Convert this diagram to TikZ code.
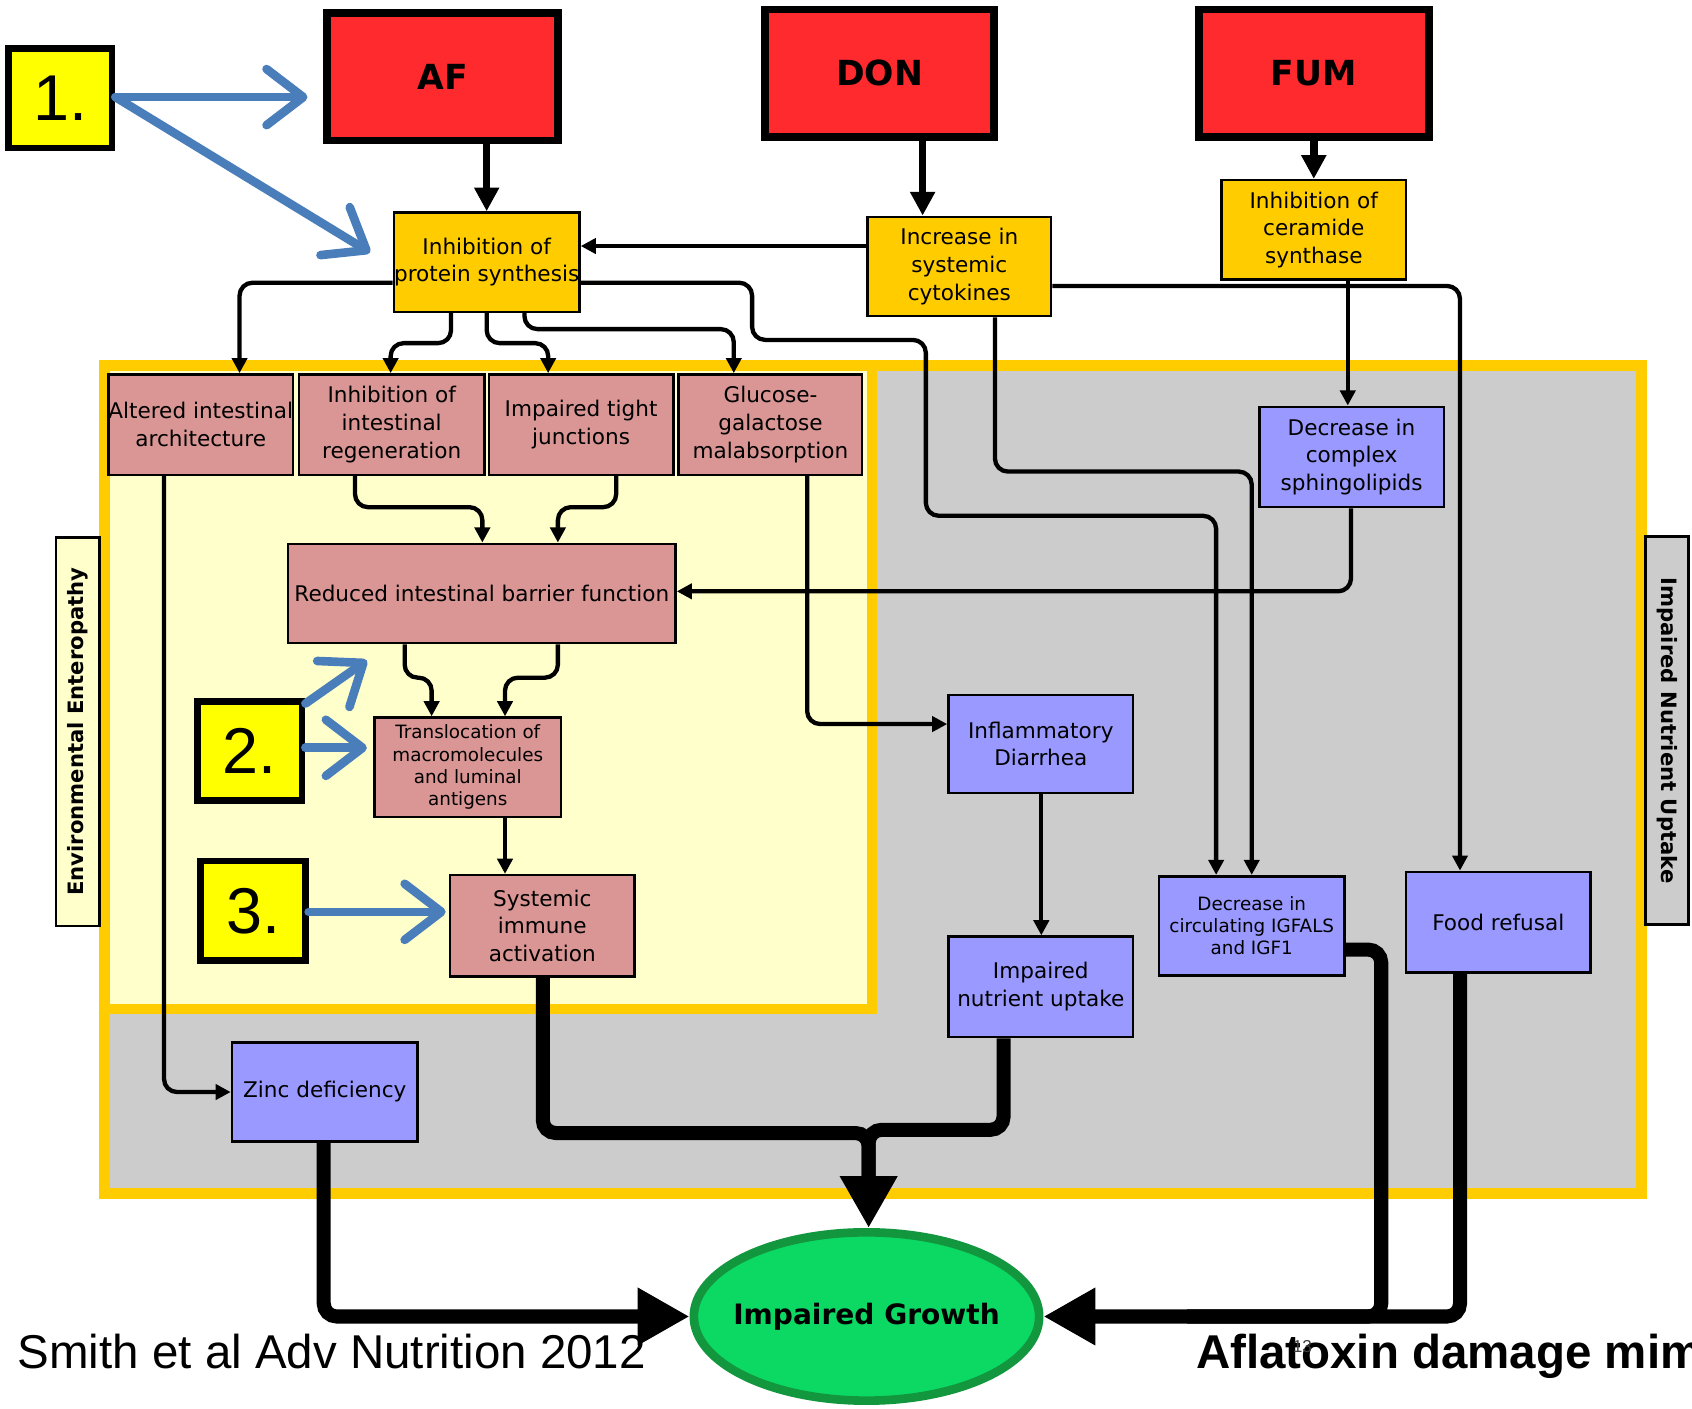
\documentclass[tikz,border=0pt]{standalone}
\usepackage{fontspec}
\setmainfont{DejaVu Sans}
\newfontfamily\arialf{Liberation Sans}
\usetikzlibrary{arrows.meta,shapes.geometric,calc}
\definecolor{redfill}{RGB}{255,42,46}
\definecolor{orangefill}{RGB}{255,204,0}
\definecolor{pinkfill}{RGB}{217,150,148}
\definecolor{bluefill}{RGB}{153,153,255}
\definecolor{greenfill}{RGB}{12,216,100}
\definecolor{greenline}{RGB}{18,150,62}
\definecolor{grayfill}{RGB}{204,204,204}
\definecolor{lightyellow}{RGB}{255,255,204}
\definecolor{numyellow}{RGB}{255,255,0}
\definecolor{bluearrow}{RGB}{74,126,187}
\definecolor{frameorange}{RGB}{255,204,0}
\begin{document}
\begin{tikzpicture}[x=0.5pt,y=-0.5pt,
  box/.style={draw=black, line width=1.2pt, inner sep=0pt, align=center,
    font=\fontsize{10}{12.8}\selectfont, text=black},
  orangebox/.style={box, fill=orangefill},
  pinkbox/.style={box, fill=pinkfill},
  bluebox/.style={box, fill=bluefill},
  smalltext/.style={font=\fontsize{8.5}{10.3}\selectfont},
  redbox/.style={draw=black, line width=3.5pt, fill=redfill, inner sep=0pt,
    font=\bfseries\fontsize{16}{18}\selectfont},
  numbox/.style={draw=black, line width=3pt, fill=numyellow, inner sep=0pt,
    font=\arialf\fontsize{30}{32}\selectfont},
  sidelabel/.style={draw=black, line width=1.2pt, inner sep=0pt,
    font=\bfseries\fontsize{9.8}{11}\selectfont},
  conn/.style={line width=2pt, rounded corners=6pt, -{Triangle[length=7pt,width=7pt]}},
  medarrow/.style={line width=3.5pt, -{Triangle[length=11pt,width=11pt]}},
  heavyline/.style={line width=6.5pt, rounded corners=6pt, -{Triangle[length=24pt,width=25pt]}},
  bluearr/.style={draw=bluearrow, line width=4pt, line cap=round,
    -{Straight Barb[length=17pt,width=26pt,round]}}
]
\useasboundingbox (0,0) rectangle (1568,1305);

% regions
\draw[fill=grayfill, draw=frameorange, line width=5pt] (97,339) rectangle (1521,1106);
\draw[fill=lightyellow, draw=frameorange, line width=5pt] (97,339) rectangle (808,935);

% side labels
\node[sidelabel, fill=lightyellow, minimum width=20pt, minimum height=180pt] (ee) at (72,678) {};
\node[rotate=90, font=\bfseries\fontsize{9.8}{11}\selectfont] (eetext) at (ee.center) {Environmental Enteropathy};
\node[sidelabel, fill=grayfill, minimum width=20pt, minimum height=180pt] (inu) at (1545,677) {};
\node[rotate=-90, font=\bfseries\fontsize{9.8}{11}\selectfont] (inutext) at (inu.center) {Impaired Nutrient Uptake};

% top boxes
\node[redbox, minimum width=107pt, minimum height=59pt] (AF) at (410,71) {AF};
\node[redbox, minimum width=106pt, minimum height=59pt] (DON) at (815,68) {DON};
\node[redbox, minimum width=106.5pt, minimum height=59pt] (FUM) at (1217.5,68) {FUM};

\node[orangebox, minimum width=86pt, minimum height=46pt] (prot) at (451,243) {Inhibition of\\protein synthesis};
\node[orangebox, minimum width=85pt, minimum height=46pt] (cyto) at (889,247) {Increase in\\systemic\\cytokines};
\node[orangebox, minimum width=85.5pt, minimum height=46pt] (cera) at (1217.5,213) {Inhibition of\\ceramide\\synthase};

% pink row
\node[pinkbox, minimum width=85pt, minimum height=46.5pt] (alt) at (186,393.5) {Altered intestinal\\architecture};
\node[pinkbox, minimum width=86pt, minimum height=46.5pt] (regen) at (363,393.5) {Inhibition of\\intestinal\\regeneration};
\node[pinkbox, minimum width=85.5pt, minimum height=46.5pt] (tight) at (538.5,393.5) {Impaired tight\\junctions};
\node[pinkbox, minimum width=85pt, minimum height=46.5pt] (gluc) at (714,393.5) {Glucose-\\galactose\\malabsorption};

\node[pinkbox, minimum width=179.5pt, minimum height=46pt] (barrier) at (446.5,550) {Reduced intestinal barrier function};
\node[pinkbox, smalltext, minimum width=86.5pt, minimum height=46pt] (transl) at (433.5,711) {Translocation of\\macromolecules\\and luminal\\antigens};
\node[pinkbox, minimum width=85.5pt, minimum height=47pt] (sysimm) at (502.5,858) {Systemic\\immune\\activation};

% blue boxes
\node[bluebox, minimum width=85.5pt, minimum height=46.5pt] (sphingo) at (1252.5,423.5) {Decrease in\\complex\\sphingolipids};
\node[bluebox, minimum width=85.5pt, minimum height=45.5pt] (infl) at (964.5,689.5) {Inflammatory\\Diarrhea};
\node[bluebox, minimum width=85.5pt, minimum height=46.5pt] (nutr) at (964.5,914.5) {Impaired\\nutrient uptake};
\node[bluebox, smalltext, minimum width=86pt, minimum height=46pt] (igf) at (1160,858) {Decrease in\\circulating IGFALS\\and IGF1};
\node[bluebox, minimum width=85.5pt, minimum height=46.5pt] (food) at (1388.5,854.5) {Food refusal};
\node[bluebox, minimum width=86pt, minimum height=46pt] (zinc) at (301,1012) {Zinc deficiency};

% growth
\node[ellipse, draw=greenline, line width=4pt, fill=greenfill, inner sep=0pt,
  minimum width=160pt, minimum height=78pt] (growth) at (803,1220) {};
\node[font=\bfseries\fontsize{13}{15}\selectfont, inner sep=0pt] (growthtext) at (growth.center) {Impaired Growth};

% number boxes
\node[numbox, minimum width=48pt, minimum height=46pt] (one) at (56,91) {1.};
\node[numbox, minimum width=48.5pt, minimum height=46pt] (two) at (231.5,696) {2.};
\node[numbox, minimum width=48.5pt, minimum height=46pt] (three) at (234.5,844) {3.};

% medium arrows
\draw[medarrow] (AF.south -| prot.north) -- (prot.north);
\draw[medarrow] (DON.south -| 855,0) -- (cyto.north -| 855,0);
\draw[medarrow] (FUM.south) -- (cera.north);

% thin connectors
\draw[conn] (cyto.west |- 0,228) -- (prot.east |- 0,228);
\draw[conn] (prot.west |- 0,262) -- (222,262) -- (alt.north -| 222,0);
\draw[conn] (prot.south -| 418,0) -- (418,318) -- (362,318) -- (regen.north -| 362,0);
\draw[conn] (prot.south -| 451,0) -- (451,318) -- (508,318) -- (tight.north -| 508,0);
\draw[conn] (prot.south -| 486,0) -- (486,305) -- (680,305) -- (gluc.north -| 680,0);
\draw[conn] (prot.east |- 0,262) -- (697,262) -- (697,315) -- (858,315) -- (858,478) -- (1127,478) -- (igf.north -| 1127,0);
\draw[conn] (cyto.south -| 922,0) -- (922,437) -- (1160,437) -- (igf.north -| 1160,0);
\draw[conn] (cyto.east |- 0,265) -- (1353,265) -- (food.north -| 1353,0);
\draw[conn] (cera.south -| 1249,0) -- (sphingo.north -| 1249,0);
\draw[conn] (sphingo.south -| 1252,0) -- (1252,548) -- (barrier.east |- 0,548);
\draw[conn] (regen.south -| 329,0) -- (329,470) -- (447,470) -- (barrier.north -| 447,0);
\draw[conn] (tight.south -| 571,0) -- (571,470) -- (517,470) -- (barrier.north -| 517,0);
\draw[conn] (barrier.south -| 375,0) -- (375,628) -- (400,628) -- (transl.north -| 400,0);
\draw[conn] (barrier.south -| 517,0) -- (517,628) -- (468,628) -- (transl.north -| 468,0);
\draw[conn] (transl.south -| 468,0) -- (sysimm.north -| 468,0);
\draw[conn] (alt.south -| 152,0) -- (152,1012) -- (zinc.west |- 0,1012);
\draw[conn] (gluc.south -| 748,0) -- (748,671) -- (infl.west |- 0,671);
\draw[conn] (infl.south -| 965,0) -- (nutr.north -| 965,0);

% heavy connectors
\draw[heavyline] (sysimm.south -| 503,0) -- (503,1050) -- (805,1050) -- (growth.north -| 805,0);
\draw[heavyline,-] (nutr.south -| 930,0) -- (930,1047) -- (805,1047) -- (805,1090);
\draw[heavyline] (zinc.south -| 300,0) -- (300,1220) -- (growth.west);
\draw[heavyline] (igf.east |- 0,880) -- (1280,880) -- (1280,1220) -- (growth.east);
\draw[heavyline,-] (food.south -| 1353,0) -- (1353,1220) -- (1100,1220);

% blue pointer arrows
\coordinate (b1) at (285,90);
\coordinate (b2) at (343,234);
\coordinate (b3) at (340,612);
\coordinate (b4) at (340,693);
\coordinate (b5) at (413,845);
\draw[bluearr] (one.east |- 0,90) -- (b1);
\draw[bluearr] (one.east |- 0,90) -- (b2);
\draw[bluearr] (two.east |- 0,652) -- (b3);
\draw[bluearr] (two.east |- 0,693) -- (b4);
\draw[bluearr] (three.east |- 0,845) -- (b5);

% bottom texts
\node[anchor=base west, inner sep=0pt, font=\arialf\fontsize{22}{24}\selectfont] (cite) at (16,1268) {Smith et al Adv Nutrition 2012};
\begin{scope}
\clip (0,0) rectangle (1568,1305);
\node[anchor=base west, inner sep=0pt, font=\arialf\bfseries\fontsize{22}{24}\selectfont] (afl) at (1108,1268) {Aflatoxin damage mim};
\end{scope}
\node[inner sep=0pt, text=black!75, font=\arialf\fontsize{8}{9}\selectfont] (pgnum) at (1207,1248) {13};
\end{tikzpicture}
\end{document}
